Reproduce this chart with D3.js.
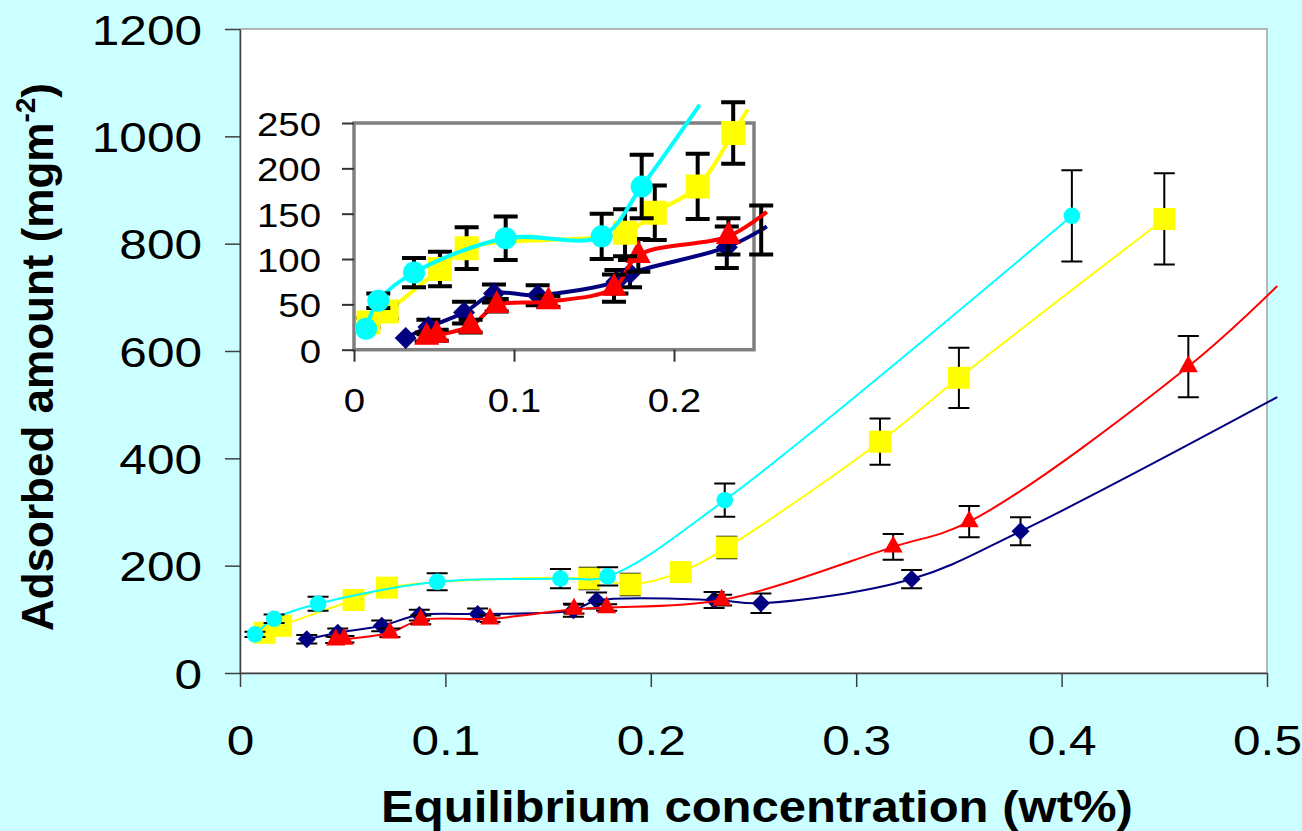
<!DOCTYPE html>
<html>
<head>
<meta charset="utf-8">
<script src="https://cdn.jsdelivr.net/npm/d3@7"></script>
<style>
  html, body { margin: 0; padding: 0; background: #ccffff; }
  svg { display: block; }
  text { font-family: Arial, "Liberation Sans", sans-serif; fill: #000; }
</style>
</head>
<body>
<div id="container"></div>
<script>
// ---- data: [concentration wt%, adsorbed amount, error] ----
// main chart
var mainNavy = [[0.0325,63,8],[0.0476,75,8],[0.069,88,10],[0.0873,108,10],[0.1157,110,10],
  [0.1623,117,12],[0.1736,135,15],[0.2308,136,15],[0.2536,130,18],[0.327,175,17],[0.380,264,26]];
var mainRed = [[0.0466,62,6],[0.0506,63,6],[0.073,75,8],[0.088,99,8],[0.1217,101,6],
  [0.1626,119,8],[0.1785,122,6],[0.2345,136,10],[0.318,235,24],[0.355,282,29],[0.4617,571,57]];
var mainYellow = [[0.012,75,5],[0.020,88,8],[0.0553,136,8],[0.0716,159,8],[0.170,176,20],
  [0.190,165,20],[0.2146,188,10],[0.237,234,20],[0.3116,431,43],[0.350,550,56],[0.450,846,85]];
var mainCyan = [[0.0073,72,5],[0.0166,101,8],[0.038,129,13],[0.096,170,16],[0.156,176,18],
  [0.179,180,17],[0.236,322,31],[0.405,852,85]];
// where the smoothed lines run on past the last marker
var mainNavyTail = [[0.505,514]];
var mainRedTail = [[0.505,721]];

// inset chart
var insetNavy = [[0.0323,13,0],[0.0465,25,8],[0.0688,41,12],[0.0875,62,10],[0.1148,60,11],
  [0.164,75,13],[0.1725,84,15],[0.233,113,23],[0.2545,132,27]];
var insetRed = [[0.0454,14,5],[0.0517,16,6],[0.0729,26,7],[0.0892,49,7],[0.1215,53,6],
  [0.1625,68,15],[0.1777,104,18],[0.234,125,20]];
var insetYellow = [[0.009,30,5],[0.0204,42,8],[0.0537,89,19],[0.0704,112,23],[0.1694,129,26],
  [0.188,151,30],[0.2148,180,36],[0.237,239,34]];
var insetCyan = [[0.0075,23,0],[0.0152,54,8],[0.0375,85,16],[0.0948,123,24],[0.1548,125,25],
  [0.1798,180,35]];
var insetNavyTail = [[0.258,136]];
var insetRedTail = [[0.258,152]];
var insetYellowTail = [[0.246,265]];
var insetCyanTail = [[0.216,270]];

var mainXTicks = [0, 0.1, 0.2, 0.3, 0.4, 0.5];
var mainYTicks = [0, 200, 400, 600, 800, 1000, 1200];
var insetXTicks = [0, 0.1, 0.2];
var insetYTicks = [0, 50, 100, 150, 200, 250];

var xTitle = "Equilibrium concentration (wt%)";
var yTitle = "Adsorbed amount (mgm";
var yTitleSup = "-2";

// ---- layout ----
var width = 1302, height = 831;
var NAVY = "#000080", RED = "#ff0000", YELLOW = "#ffff00", CYAN = "#00ffff";

var svg = d3.select("#container").append("svg")
  .attr("width", width)
  .attr("height", height);

svg.append("rect").attr("width", width).attr("height", height).attr("fill", "#ccffff");

var x = d3.scaleLinear().domain([0, 0.5]).range([240, 1267]);
var y = d3.scaleLinear().domain([0, 1200]).range([673, 29]);
var xi = d3.scaleLinear().domain([0, 0.25]).range([354, 754]);
var yi = d3.scaleLinear().domain([0, 250]).range([349.7, 123]);

var numFmt = function(d) { return d == 0 ? "0" : (d < 1 ? d3.format(".1f")(d) : String(d)); };

// marker shapes
function markerPath(kind, s) {
  if (kind == "diamond") {
    var h = s / 2;
    return "M0," + (-h) + "L" + h + ",0L0," + h + "L" + (-h) + ",0Z";
  }
  if (kind == "triangle") {
    var w = s.w / 2, hh = s.h;
    return "M0," + (-hh * 2 / 3) + "L" + w + "," + (hh / 3) + "L" + (-w) + "," + (hh / 3) + "Z";
  }
  if (kind == "square") {
    var a = s / 2;
    return "M" + (-a) + "," + (-a) + "h" + s + "v" + s + "h" + (-s) + "Z";
  }
  // circle
  return "M" + (-s) + ",0a" + s + "," + s + " 0 1,0 " + (2 * s) + ",0a" + s + "," + s + " 0 1,0 " + (-2 * s) + ",0Z";
}

function drawSeries(g, xs, ys, data, tail, opt) {
  var pts = data.map(function(d) { return [d[0], d[1]]; }).concat(tail || []);
  var line = d3.line()
    .x(function(d) { return xs(d[0]); })
    .y(function(d) { return ys(d[1]); })
    .curve(d3.curveCatmullRom.alpha(0.5));

  g.append("path")
    .attr("d", line(pts))
    .attr("fill", "none")
    .attr("stroke", opt.color)
    .attr("stroke-width", opt.lineWidth);

  // error bars
  var eb = g.append("g")
    .attr("stroke", "#000")
    .attr("stroke-width", opt.errWidth)
    .attr("fill", "none");
  data.filter(function(d) { return d[2] > 0; }).forEach(function(d) {
    var cx = xs(d[0]), top = ys(d[1] + d[2]), bot = ys(d[1] - d[2]);
    var c = opt.cap / 2;
    eb.append("path")
      .attr("d", "M" + cx + "," + top + "V" + bot +
                 "M" + (cx - c) + "," + top + "H" + (cx + c) +
                 "M" + (cx - c) + "," + bot + "H" + (cx + c));
  });

  // markers (hidden past the right end of the axis, like the source)
  g.append("g").selectAll("path")
    .data(data.filter(function(d) { return d[0] <= xs.domain()[1]; }))
    .enter().append("path")
    .attr("transform", function(d) { return "translate(" + xs(d[0]) + "," + ys(d[1]) + ")"; })
    .attr("d", markerPath(opt.kind, opt.size))
    .attr("fill", opt.color)
    .attr("stroke", opt.color)
    .attr("stroke-width", opt.markerStroke || 0);
}

// ---- main chart ----
svg.append("rect")
  .attr("x", 240).attr("y", 29)
  .attr("width", 1267 - 240).attr("height", 673 - 29)
  .attr("fill", "#fff")
  .attr("stroke", "#a0a0a0")
  .attr("stroke-width", 1.5);

var mainG = svg.append("g");
drawSeries(mainG, x, y, mainNavy, mainNavyTail,
  {color: NAVY, kind: "diamond", size: 18, lineWidth: 2, errWidth: 2, cap: 21});
drawSeries(mainG, x, y, mainRed, mainRedTail,
  {color: RED, kind: "triangle", size: {w: 19, h: 17}, lineWidth: 2, errWidth: 2, cap: 21});
drawSeries(mainG, x, y, mainYellow, null,
  {color: YELLOW, kind: "square", size: 22, lineWidth: 2, errWidth: 2, cap: 21});
drawSeries(mainG, x, y, mainCyan, null,
  {color: CYAN, kind: "circle", size: 8.3, lineWidth: 2, errWidth: 2, cap: 21});

var sxMain = 1.18;
var yAxis = svg.append("g")
  .attr("transform", "translate(240,0)")
  .call(d3.axisLeft(y).tickValues(mainYTicks).tickSize(15).tickSizeOuter(0).tickFormat(numFmt));
yAxis.select(".domain").attr("stroke", "#404040").attr("stroke-width", 1.5);
yAxis.selectAll(".tick line").attr("stroke", "#404040").attr("stroke-width", 1.5);
yAxis.selectAll(".tick text")
  .attr("font-size", 42)
  .attr("font-family", "Arial, 'Liberation Sans', sans-serif")
  .attr("x", -38 / sxMain)
  .attr("dy", 15)
  .attr("transform", "scale(" + sxMain + ",1)");

var xAxis = svg.append("g")
  .attr("transform", "translate(0,673)")
  .call(d3.axisBottom(x).tickValues(mainXTicks).tickSize(14).tickSizeOuter(0).tickFormat(numFmt));
xAxis.select(".domain").attr("stroke", "#404040").attr("stroke-width", 1.5);
xAxis.selectAll(".tick line").attr("stroke", "#404040").attr("stroke-width", 1.5);
xAxis.selectAll(".tick text")
  .attr("font-size", 42)
  .attr("font-family", "Arial, 'Liberation Sans', sans-serif")
  .attr("y", 82)
  .attr("dy", 0)
  .attr("transform", "scale(" + sxMain + ",1)");

// axis titles
svg.append("text")
  .attr("transform", "translate(757,822) scale(1.09,1)")
  .attr("text-anchor", "middle")
  .attr("font-size", 45)
  .attr("font-weight", "bold")
  .text(xTitle);

var yt = svg.append("text")
  .attr("transform", "translate(53,357) rotate(-90)")
  .attr("text-anchor", "middle")
  .attr("font-size", 44)
  .attr("font-weight", "bold");
yt.append("tspan").text(yTitle);
yt.append("tspan").attr("font-size", 28).attr("dy", -18).text(yTitleSup);
yt.append("tspan").attr("dy", 18).text(")");

// ---- inset chart ----
svg.append("rect")
  .attr("x", 354).attr("y", 123)
  .attr("width", 754 - 354).attr("height", 349.7 - 123)
  .attr("fill", "#fff")
  .attr("stroke", "#808080")
  .attr("stroke-width", 3.5);

var insetG = svg.append("g");
drawSeries(insetG, xi, yi, insetNavy, insetNavyTail,
  {color: NAVY, kind: "diamond", size: 22, lineWidth: 4, errWidth: 4, cap: 24});
drawSeries(insetG, xi, yi, insetRed, insetRedTail,
  {color: RED, kind: "triangle", size: {w: 25, h: 23}, lineWidth: 4, errWidth: 4, cap: 24});
drawSeries(insetG, xi, yi, insetYellow, insetYellowTail,
  {color: YELLOW, kind: "square", size: 21, lineWidth: 4, errWidth: 4, cap: 24, markerStroke: 3});
drawSeries(insetG, xi, yi, insetCyan, insetCyanTail,
  {color: CYAN, kind: "circle", size: 11, lineWidth: 4, errWidth: 4, cap: 24});

var sxIn = 1.13;
var yiAxis = svg.append("g")
  .attr("transform", "translate(354,0)")
  .call(d3.axisLeft(yi).tickValues(insetYTicks).tickSize(12).tickSizeOuter(0).tickFormat(numFmt));
yiAxis.select(".domain").remove();
yiAxis.selectAll(".tick line").attr("stroke", "#333").attr("stroke-width", 2);
yiAxis.selectAll(".tick text")
  .attr("font-size", 34)
  .attr("font-family", "Arial, 'Liberation Sans', sans-serif")
  .attr("x", -33 / sxIn)
  .attr("dy", 12.5)
  .attr("transform", "scale(" + sxIn + ",1)");

var xiAxis = svg.append("g")
  .attr("transform", "translate(0,349.7)")
  .call(d3.axisBottom(xi).tickValues(insetXTicks).tickSize(12).tickSizeOuter(0).tickFormat(numFmt));
xiAxis.select(".domain").remove();
xiAxis.selectAll(".tick line").attr("stroke", "#333").attr("stroke-width", 2);
xiAxis.selectAll(".tick text")
  .attr("font-size", 34)
  .attr("font-family", "Arial, 'Liberation Sans', sans-serif")
  .attr("y", 62)
  .attr("dy", 0)
  .attr("transform", "scale(" + sxIn + ",1)");
</script>
</body>
</html>
